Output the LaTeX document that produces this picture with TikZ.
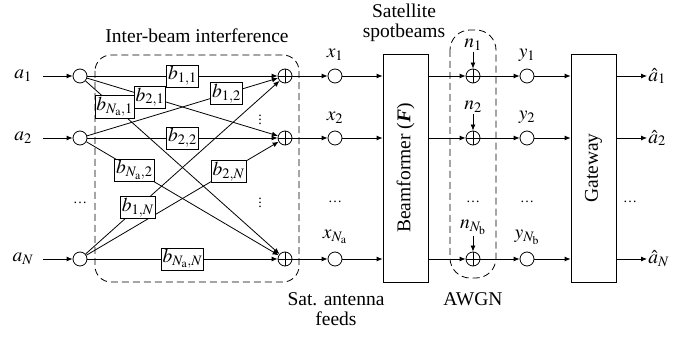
\documentclass[tikz,border=0pt]{standalone}
\usepackage{mathptmx}
\usepackage{fontspec}
\setmainfont{Liberation Serif}
\usepackage{tikz}
\usetikzlibrary{arrows.meta}
\tikzset{
x=1pt, y=-1pt, % one unit is one pixel of the layout
>={Latex[length=6pt,width=5pt]}, % small filled arrow heads
every node/.style={font=\fontsize{19.5}{23}\selectfont, inner sep=1pt},
node/.style={circle, draw, minimum size=14pt, inner sep=0pt}, % plain circle nodes
sum/.style={node, path picture={
  \draw (path picture bounding box.north) -- (path picture bounding box.south)
        (path picture bounding box.west) -- (path picture bounding box.east);}},
weight/.style={draw, fill=white, inner sep=1.5pt}, % the b_{i,j} boxes
block/.style={draw, minimum width=45pt, minimum height=228pt, inner sep=0pt},
group/.style={draw, dashed, dash pattern=on 7pt off 4pt},
dots/.style={font=\fontsize{14}{16}\selectfont},
}

\begin{document}
\begin{tikzpicture}[line width=0.8pt]
		\useasboundingbox (0,0) rectangle (694,344);
		% inputs
		\node (a1) at (23,76) {$a_1$};
		\node (a2) at (23,138) {$a_2$};
		\node (aN) at (23,259) {$a_N$};
		\node[node] (in1) at (80,76) {};
		\node[node] (in2) at (80,138) {};
		\node[node] (inN) at (80,259) {};
		\node[dots] at (80,203) {\dots};
		\draw[->] (a1.east -| 43,0) -- (in1);
		\draw[->] (a2.east -| 43,0) -- (in2);
		\draw[->] (aN.east -| 43,0) -- (inN);
		% inter-beam interference
		\node[sum] (s1) at (285,76) {};
		\node[sum] (s2) at (285,138) {};
		\node[sum] (sN) at (285,259) {};
		\node[dots] at (260,117) {$\vdots$};
		\node[dots] at (260,200) {$\vdots$};
		\draw[group, rounded corners=16pt] (95,55) rectangle (299,282);
		\node (ibi) at (197,36) {Inter-beam interference};
		\draw[->] (in1) -- (s2);
		\draw[->] (in1) -- (sN);
		\draw[->] (in2) -- (s1);
		\draw[->] (in2) -- (sN);
		\draw[->] (inN) -- (s1);
		\draw[->] (inN) -- (s2);
		\draw[->] (in1) -- node[weight] {$b_{1,1}$} (s1);
		\draw[->] (in2) -- node[weight] {$b_{2,2}$} (s2);
		\draw[->] (inN) -- node[weight] {$b_{N_\mathrm{a},N}$} (sN);
		\path (in1) -- node[weight, pos=0.33] {$b_{2,1}$} (s2);
		\path (in1) -- node[weight, pos=0.15] {$b_{N_\mathrm{a},1}$} (sN);
		\path (in2) -- node[weight, pos=0.73] {$b_{1,2}$} (s1);
		\path (in2) -- node[weight, pos=0.25] {$b_{N_\mathrm{a},2}$} (sN);
		\path (inN) -- node[weight, pos=0.74] {$b_{2,N}$} (s2);
		\path (inN) -- node[weight, pos=0.27] {$b_{1,N}$} (s1);
		% antenna feeds
		\node[node] (x1) at (335,76) {};
		\node[node] (x2) at (335,138) {};
		\node[node] (xN) at (335,259) {};
		\node[dots] at (335,202) {\dots};
		\node (lx1) at (335,55) {$x_1$};
		\node (lx2) at (335,118) {$x_2$};
		\node (lxN) at (335,237) {$x_{N_\mathrm{a}}$};
		\draw[->] (s1) -- (x1);
		\draw[->] (s2) -- (x2);
		\draw[->] (sN) -- (xN);
		\node (feeds) at (336,311) {\begin{tabular}{@{}c@{}}Sat. antenna\\[-3pt] feeds\end{tabular}};
		% beamformer
		\node[block] (bf) at (405.5,168) {};
		\node[rotate=90] at (bf.center) {Beamformer (\textbf{\textit{F}})};
		\node (spot) at (404,23) {\begin{tabular}{@{}c@{}}Satellite\\[-3pt] spotbeams\end{tabular}};
		\draw[->] (x1) -- (x1 -| bf.west);
		\draw[->] (x2) -- (x2 -| bf.west);
		\draw[->] (xN) -- (xN -| bf.west);
		% noise
		\node[sum] (z1) at (473,76) {};
		\node[sum] (z2) at (473,138) {};
		\node[sum] (zN) at (473,259) {};
		\node[dots] at (473,202) {\dots};
		\node (n1) at (473,45) {$n_1$};
		\node (n2) at (473,107) {$n_2$};
		\node (nN) at (473,227) {$n_{N_\mathrm{b}}$};
		\draw[->] (n1.south) -- (z1);
		\draw[->] (n2.south) -- (z2);
		\draw[->] (nN.south) -- (zN);
		\draw[->] (bf.east |- z1) -- (z1);
		\draw[->] (bf.east |- z2) -- (z2);
		\draw[->] (bf.east |- zN) -- (zN);
		\draw[group, rounded corners=20pt] (450,30) rectangle (496,278);
		\node (awgn) at (473,299) {AWGN};
		% received
		\node[node] (y1) at (527,76) {};
		\node[node] (y2) at (527,138) {};
		\node[node] (yN) at (527,259) {};
		\node[dots] at (527,202) {\dots};
		\node (ly1) at (527,55) {$y_1$};
		\node (ly2) at (527,117) {$y_2$};
		\node (lyN) at (527,237) {$y_{N_\mathrm{b}}$};
		\draw[->] (z1) -- (y1);
		\draw[->] (z2) -- (y2);
		\draw[->] (zN) -- (yN);
		% gateway
		\node[block] (gw) at (593.5,168) {};
		\node[rotate=90] at (gw.center) {Gateway};
		\draw[->] (y1) -- (y1 -| gw.west);
		\draw[->] (y2) -- (y2 -| gw.west);
		\draw[->] (yN) -- (yN -| gw.west);
		\node[dots] at (630,202) {\dots};
		\node[anchor=west] (h1) at (647,76) {$\hat{a}_1$};
		\node[anchor=west] (h2) at (647,138) {$\hat{a}_2$};
		\node[anchor=west] (hN) at (647,259) {$\hat{a}_N$};
		\draw[->] (gw.east |- h1) -- (h1.west);
		\draw[->] (gw.east |- h2) -- (h2.west);
		\draw[->] (gw.east |- hN) -- (hN.west);
	\end{tikzpicture}
\end{document}
